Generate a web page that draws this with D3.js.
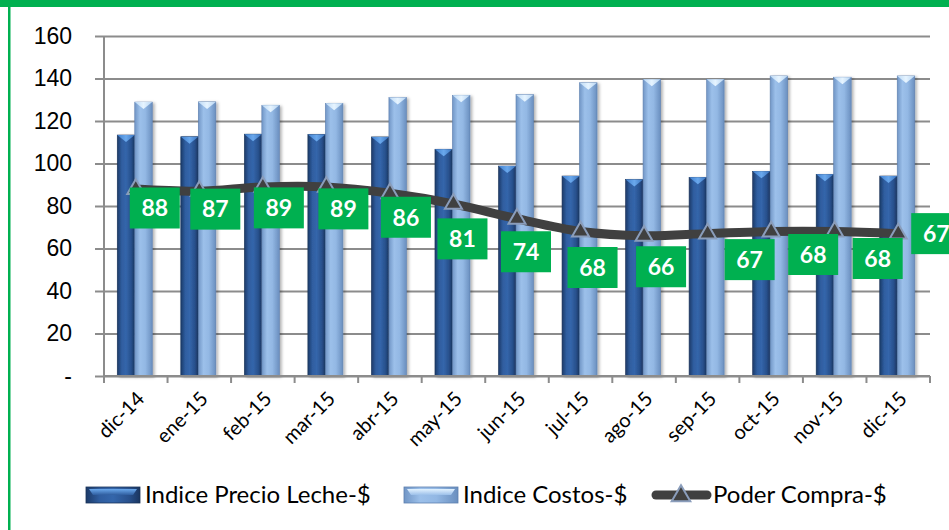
<!DOCTYPE html>
<html>
<head>
<meta charset="utf-8">
<script src="https://cdn.jsdelivr.net/npm/d3@7/dist/d3.min.js"></script>
<style>
  html, body { margin: 0; padding: 0; background: #fff; }
  svg { display: block; font-family: Lato, "Liberation Sans", sans-serif; }
</style>
</head>
<body>
<script>
// ---- data ----
const categories = ["dic-14","ene-15","feb-15","mar-15","abr-15","may-15","jun-15","jul-15","ago-15","sep-15","oct-15","nov-15","dic-15"];
const precioLeche = [113.4, 112.6, 113.8, 113.7, 112.5, 106.7, 98.8, 94.1, 92.5, 93.5, 96.3, 94.9, 94.1];
const costos      = [128.9, 129.0, 127.4, 128.3, 131.1, 132.1, 132.4, 138.0, 139.6, 139.6, 141.2, 140.6, 141.2];
const poderCompra = [88, 87, 89, 89, 86, 81, 74, 68, 66, 67, 68, 68, 67];
const yTicks = [0, 20, 40, 60, 80, 100, 120, 140, 160];
const seriesNames = ["Indice Precio Leche-$", "Indice Costos-$", "Poder Compra-$"];

// ---- layout ----
const W = 949, H = 530;
const plot = { left: 104, right: 930, top: 36, bottom: 376 };
// manual nudges of the data-label boxes (relative to each point)
const labelDx = [19, 16, 16, 17, 16, 9, 9, 12, 17, 42, 42, 43, 38];
const labelDy = [19, 18, 21, 22, 24, 35, 33, 36, 31, 26, 23, 27, 0];

const svg = d3.select("body").append("svg").attr("width", W).attr("height", H);
const defs = svg.append("defs");

function hGrad(id, stops) {
  const g = defs.append("linearGradient").attr("id", id).attr("x1", "0").attr("x2", "1").attr("y1", "0").attr("y2", "0");
  stops.forEach(s => g.append("stop").attr("offset", s[0]).attr("stop-color", s[1]));
}
hGrad("gDark", [[0, "#1c3a68"], [0.25, "#2f5d9f"], [0.5, "#3466ab"], [0.8, "#28508c"], [1, "#1a355f"]]);
hGrad("gLight", [[0, "#7196c6"], [0.3, "#9cc0ea"], [0.6, "#93b8e4"], [1, "#6a8fbf"]]);
hGrad("gDarkCap", [[0, "#3f7fcf"], [0.5, "#6aa8ec"], [1, "#3a74c0"]]);
hGrad("gLightCap", [[0, "#bcd9f5"], [0.5, "#e6f4ff"], [1, "#b6d4f2"]]);
const sh = defs.append("filter").attr("id", "shadow").attr("x", "-30%").attr("y", "-10%").attr("width", "160%").attr("height", "120%");
sh.append("feDropShadow").attr("dx", 2).attr("dy", 1).attr("stdDeviation", 1.5).attr("flood-color", "#000").attr("flood-opacity", 0.3);

// border
svg.append("rect").attr("x", 0).attr("y", 0).attr("width", W).attr("height", 7).attr("fill", "#00b050");
svg.append("rect").attr("x", 8).attr("y", 0).attr("width", 2.5).attr("height", H).attr("fill", "#00b050");

// scales
const x = d3.scaleBand().domain(categories).range([plot.left, plot.right]).paddingInner(0).paddingOuter(0);
const barW = 17.5;
const x1 = d3.scaleBand().domain(["leche", "costos"]).range([x.bandwidth() / 2 - 1 - barW, x.bandwidth() / 2 - 1 + barW]);
const y = d3.scaleLinear().domain([0, 160]).range([plot.bottom, plot.top]);

// grid + y axis
const yAxis = d3.axisLeft(y).tickValues(yTicks)
  .tickFormat(d => d === 0 ? "-" : d)
  .tickSize(-(plot.right - 95)).tickPadding(23);
const gy = svg.append("g").attr("transform", "translate(95,0)").call(yAxis);
gy.select(".domain").remove();
gy.selectAll(".tick line").attr("stroke", "#8c8c8c").attr("stroke-width", 2);
gy.selectAll(".tick text").attr("font-size", 23).attr("fill", "#000");
svg.append("line").attr("x1", plot.left).attr("x2", plot.left).attr("y1", plot.top).attr("y2", plot.bottom + 7)
  .attr("stroke", "#8c8c8c").attr("stroke-width", 2);

// bars
const bars = svg.append("g");
function drawBars(values, key, fill, capFill, edge) {
  const g = bars.append("g");
  values.forEach((v, i) => {
    const bx = x(categories[i]) + x1(key), bw = x1.bandwidth();
    const top = y(v), bot = y(0);
    g.append("rect").attr("x", bx).attr("y", top).attr("width", bw).attr("height", bot - top)
      .attr("fill", `url(#${fill})`).attr("stroke", edge).attr("stroke-width", 0.6).attr("filter", "url(#shadow)");
    g.append("path").attr("d", `M${bx},${top}L${bx + bw},${top}L${bx + bw / 2},${top + 7}Z`).attr("fill", `url(#${capFill})`);
  });
}
drawBars(precioLeche, "leche", "gDark", "gDarkCap", "#1a3358");
drawBars(costos, "costos", "gLight", "gLightCap", "#5d7fae");

// x axis
svg.append("line").attr("x1", plot.left).attr("x2", plot.right).attr("y1", plot.bottom).attr("y2", plot.bottom)
  .attr("stroke", "#8c8c8c").attr("stroke-width", 2);
const bounds = categories.map(c => x(c)).concat([x.range()[1]]);
svg.append("g").selectAll("line").data(bounds).join("line")
  .attr("x1", d => d).attr("x2", d => d).attr("y1", plot.bottom).attr("y2", plot.bottom + 7)
  .attr("stroke", "#8c8c8c").attr("stroke-width", 2);
svg.append("g").selectAll("text").data(categories).join("text")
  .attr("transform", d => `translate(${x(d) + x.bandwidth() / 2 + 10},${plot.bottom + 24}) rotate(-45)`)
  .attr("text-anchor", "end").attr("font-size", 20).attr("fill", "#000").text(d => d);

// line
const cx = (d, i) => x(categories[i]) + x.bandwidth() / 2;
const line = d3.line().x(cx).y(d => y(d)).curve(d3.curveCatmullRom.alpha(0.5));
svg.append("path").datum(poderCompra).attr("d", line).attr("fill", "none")
  .attr("stroke", "#404040").attr("stroke-width", 9).attr("stroke-linecap", "round");
const tri = d3.symbol().type(d3.symbolTriangle).size(125);
svg.append("g").selectAll("path").data(poderCompra).join("path")
  .attr("d", tri).attr("transform", (d, i) => `translate(${cx(d, i)},${y(d)})`)
  .attr("fill", "#404040").attr("stroke", "#8a9dbb").attr("stroke-width", 2);

// labels
const lab = svg.append("g").selectAll("g").data(poderCompra).join("g")
  .attr("transform", (d, i) => `translate(${cx(d, i) + labelDx[i]},${y(d) + labelDy[i]})`);
lab.append("rect").attr("x", -25).attr("y", -20.5).attr("width", 50).attr("height", 41).attr("fill", "#00b050");
lab.append("text").attr("text-anchor", "middle").attr("dy", "0.36em").attr("font-size", 23).attr("font-weight", "bold")
  .attr("fill", "#fff").text(d => d);

// legend
const leg = svg.append("g");
const ly = 495;
[[86, "gDark", "#1a3358"], [404, "gLight", "#5d7fae"]].forEach((s, k) => {
  const gg = leg.append("g");
  gg.append("rect").attr("x", s[0]).attr("y", ly - 8).attr("width", 54).attr("height", 16)
    .attr("fill", `url(#${s[1]})`).attr("stroke", s[2]).attr("stroke-width", 0.8);
  const gv = defs.append("linearGradient").attr("id", "lg" + k).attr("x1", 0).attr("x2", 0).attr("y1", 0).attr("y2", 1);
  gv.append("stop").attr("offset", 0).attr("stop-color", k ? "#e2f2ff" : "#6aa8ec");
  gv.append("stop").attr("offset", 1).attr("stop-color", k ? "#9cc0ea" : "#2f5d9f");
  gg.append("path").attr("d", `M${s[0] + 3},${ly - 6}L${s[0] + 51},${ly - 6}L${s[0] + 47},${ly}L${s[0] + 7},${ly}Z`)
    .attr("fill", `url(#lg${k})`);
  gg.append("text").attr("x", s[0] + 59).attr("y", ly).attr("dy", "0.35em").attr("font-size", 24).attr("fill", "#000")
    .text(seriesNames[k]);
});
leg.append("line").attr("x1", 656).attr("x2", 707).attr("y1", ly).attr("y2", ly)
  .attr("stroke", "#404040").attr("stroke-width", 9).attr("stroke-linecap", "round");
leg.append("path").attr("d", d3.symbol().type(d3.symbolTriangle).size(150)).attr("transform", `translate(681,${ly + 1})`)
  .attr("fill", "#404040").attr("stroke", "#8a9dbb").attr("stroke-width", 2);
leg.append("text").attr("x", 713).attr("y", ly).attr("dy", "0.35em").attr("font-size", 24).attr("fill", "#000")
  .text(seriesNames[2]);
</script>
</body>
</html>
